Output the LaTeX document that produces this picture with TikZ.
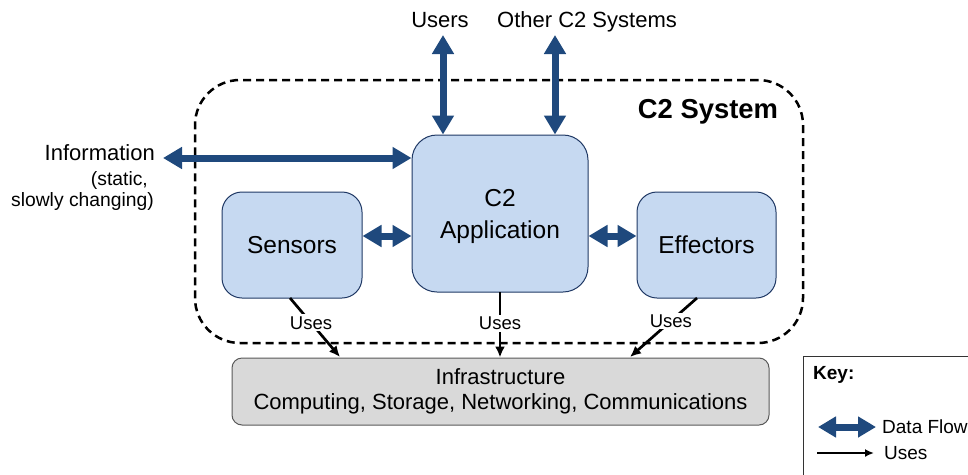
\documentclass[tikz,border=0pt]{standalone}
\usepackage{fontspec}
\setmainfont{Liberation Sans}
\usetikzlibrary{arrows.meta,calc}
\definecolor{flowblue}{RGB}{31,73,125}
\definecolor{boxblue}{RGB}{198,217,241}
\definecolor{boxedge}{RGB}{31,56,100}
\definecolor{infrafill}{RGB}{217,217,217}
\definecolor{infraedge}{RGB}{89,89,89}
\tikzset{
  flow/.style={draw=flowblue, line width=7pt,
    {Triangle[width=21pt,length=19pt]}-{Triangle[width=21pt,length=19pt]}},
  keyflow/.style={draw=flowblue, line width=7pt,
    {Triangle[width=20pt,length=18pt]}-{Triangle[width=20pt,length=18pt]}},
  uses/.style={draw=black, line width=2.7pt, -{Latex[width=10pt,length=11pt]}},
  bluebox/.style={draw=boxedge, line width=1pt, fill=boxblue, rounded corners=20pt,
    align=center, font=\fontsize{24.5}{30}\selectfont},
  infrabox/.style={draw=infraedge, line width=1pt, fill=infrafill, rounded corners=10pt,
    align=center, font=\fontsize{22}{25}\selectfont},
  lbl/.style={font=\fontsize{22}{26}\selectfont, inner sep=0pt},
  small/.style={font=\fontsize{19.3}{21}\selectfont, inner sep=0pt},
  useslbl/.style={fill=white, inner sep=2pt, font=\fontsize{18.5}{20}\selectfont},
  keytxt/.style={font=\fontsize{19}{21}\selectfont, anchor=west, inner sep=0pt},
}
\begin{document}
\begin{tikzpicture}[x=1pt,y=-1pt]
\useasboundingbox (0,0) rectangle (968,474);
% C2 system boundary
\node[draw=black, dashed, dash pattern=on 8pt off 5pt, line width=2.5pt, rounded corners=45pt,
  minimum width=608pt, minimum height=263pt, inner sep=0pt] (sys) at (499,211.5) {};
\node[font=\fontsize{27.4}{30}\selectfont\bfseries, inner sep=0pt] (systitle) at (708,112) {C2 System};
% boxes
\node[bluebox, rounded corners=25pt, minimum width=176pt, minimum height=157pt, inner sep=0pt] (app) at (500,213.5) {};
\node[font=\fontsize{24.5}{30}\selectfont, align=center, inner sep=0pt] (apptxt) at (500,216) {C2\\[2pt]Application};
\node[bluebox, minimum width=140pt, minimum height=106pt, inner sep=0pt] (sens) at (292,245) {Sensors};
\node[bluebox, minimum width=139pt, minimum height=106pt, inner sep=0pt] (eff) at (706.5,245) {Effectors};
\node[infrabox, minimum width=537pt, minimum height=67pt, inner sep=0pt] (infra) at (500.5,391.5)
  {Infrastructure\\Computing, Storage, Networking, Communications};
% outside texts
\node[lbl] (users) at (440,20) {Users};
\node[lbl] (other) at (587,22) {Other C2 Systems};
\node[lbl, anchor=east] (info) at (155,153) {Information};
\node[small, anchor=east] (stat) at (148,181) {(static,};
\node[small, anchor=east] (slow) at (154,202) {slowly changing)};
% data flows
\coordinate (u1) at (443,35);
\coordinate (o1) at (555,35);
\coordinate (i1) at (163,158);
\draw[flow] (u1) -- (u1 |- app.north);
\draw[flow] (o1) -- (o1 |- app.north);
\draw[flow] (i1) -- (i1 -| app.west);
\coordinate (sy) at (0,236);
\draw[flow] (sens.east |- sy) -- (app.west |- sy);
\draw[flow] (app.east |- sy) -- (eff.west |- sy);
% uses
\coordinate (s0) at (290,298);
\coordinate (s1) at (340,357);
\coordinate (m0) at (500,292);
\coordinate (e0) at (697,298);
\coordinate (e1) at (630,357);
\draw[uses] (s0) -- node[useslbl, pos=0.42] (us1) {Uses} (s1);
\draw[uses] (m0) -- node[useslbl, pos=0.48] (us2) {Uses} (m0 |- infra.north);
\draw[uses] (e0) -- node[useslbl, pos=0.39] (us3) {Uses} (e1);
% key
\node[draw=black!80, line width=1pt, anchor=north west, minimum width=200pt, minimum height=140pt, inner sep=0pt] (key) at (803,356) {};
\node[font=\fontsize{19}{21}\selectfont\bfseries, anchor=west, inner sep=0pt] (keyt) at (813,375) {Key:};
\coordinate (k1) at (818,427);
\coordinate (k2) at (876,427);
\coordinate (k3) at (817,453);
\coordinate (k4) at (874,453);
\draw[keyflow] (k1) -- (k2);
\draw[draw=black, line width=2pt, -{Latex[width=8pt,length=9pt]}] (k3) -- (k4);
\node[keytxt] (kdf) at (882,427) {Data Flow};
\node[keytxt] (kus) at (884,453) {Uses};
\end{tikzpicture}
\end{document}
